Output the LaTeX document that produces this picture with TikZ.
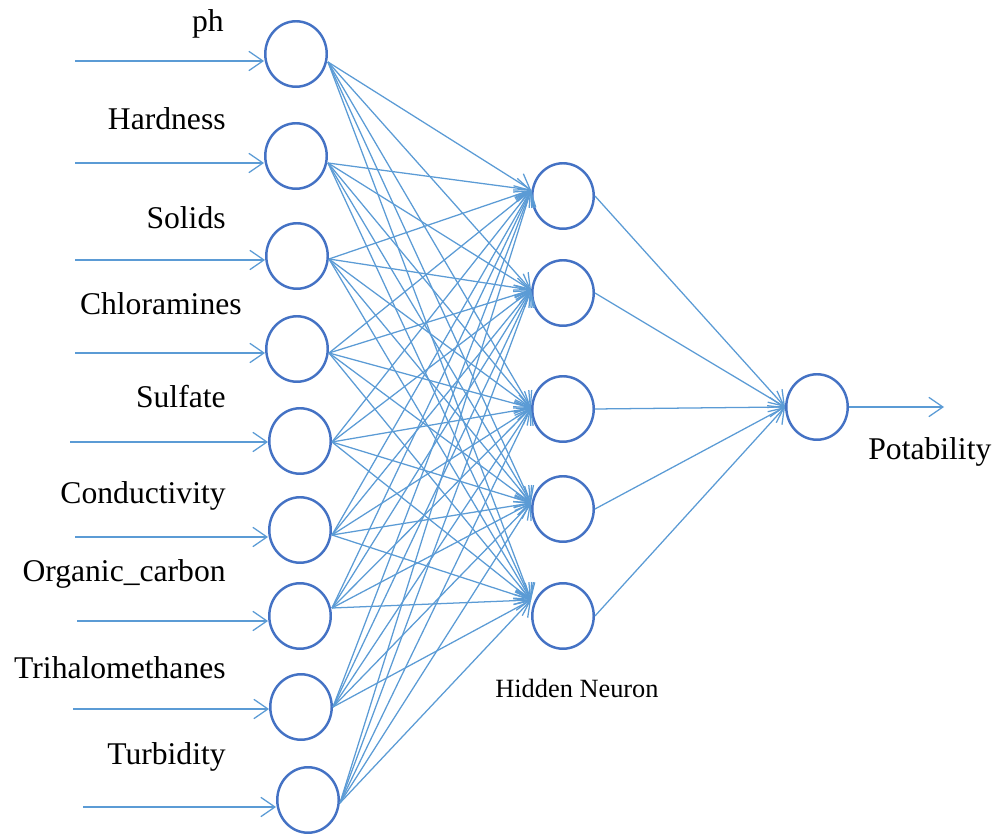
\documentclass[tikz,border=0pt]{standalone}
\usepackage{fontspec}
\setmainfont{Liberation Serif}
\usepackage{tikz}
\usetikzlibrary{arrows.meta}
\usetikzlibrary{shapes.geometric}
\definecolor{nnline}{RGB}{91,155,213}
\definecolor{nnring}{RGB}{68,114,196}

\begin{document}
\begin{tikzpicture}[x=0.02cm,y=-0.02cm,
  neuron/.style={ellipse,draw=nnring,line width=1.4pt,inner sep=0pt,
    minimum width=1.23cm,minimum height=1.31cm},
  link/.style={draw=nnline,line width=0.72pt,
    -{Straight Barb[length=8pt,width=11pt]}},
  lbl/.style={font=\fontsize{18}{20}\selectfont,inner sep=0pt}]
\useasboundingbox (0,0) rectangle (995,834);

% input layer
\foreach \n/\cx/\cy/\ay/\sx/\ey/\tx/\ty/\txt in
  {1/296/54/61/75/62/224/32/ph,
   2/296/156/163/75/163/226/130/Hardness,
   3/297/256/260/75/259/226/229/Solids,
   4/297/349/353/75/353/242/315/Chloramines,
   5/300/441/442/70/442/226/408/Sulfate,
   6/300/530/537/75/535/226/504/Conductivity,
   7/300/616/621/77/608/226/582/Organic\_carbon,
   8/301/707/709/73/707/226/679/Trihalomethanes,
   9/308/800/807/83/803/226/765/Turbidity}
{
  \node[neuron] (i\n) at (\cx,\cy) {};
  \node[lbl,anchor=base east] (t\n) at (\tx,\ty) {\txt};
  \coordinate (s\n) at (\sx,\ay);
  \coordinate (e\n) at (i\n.east |- 0,\ey);
  \draw[link] (s\n) -- (s\n -| i\n.west);
}

% hidden layer
\foreach \m/\cy/\ey in {1/196/190,2/293/290,3/409/408,4/509/503,5/616/600}
{
  \node[neuron] (h\m) at (563,\cy) {};
  \coordinate (w\m) at (h\m.west |- 0,\ey);
}
\node[lbl,font=\fontsize{15}{17}\selectfont,anchor=base west] (hname) at (495,698) {Hidden Neuron};

% output
\node[neuron] (out) at (817,407) {};
\coordinate (res) at (944,407);
\node[lbl,anchor=base west] (tout) at (868,460) {Potability};

\foreach \n in {1,...,9}
  \foreach \m in {1,...,5}
    \draw[link] (e\n) -- (w\m);
\foreach \m in {1,...,5}
  \draw[link] (h\m.east) -- (out.west);
\draw[link] (out.east) -- (res);
\end{tikzpicture}
\end{document}
